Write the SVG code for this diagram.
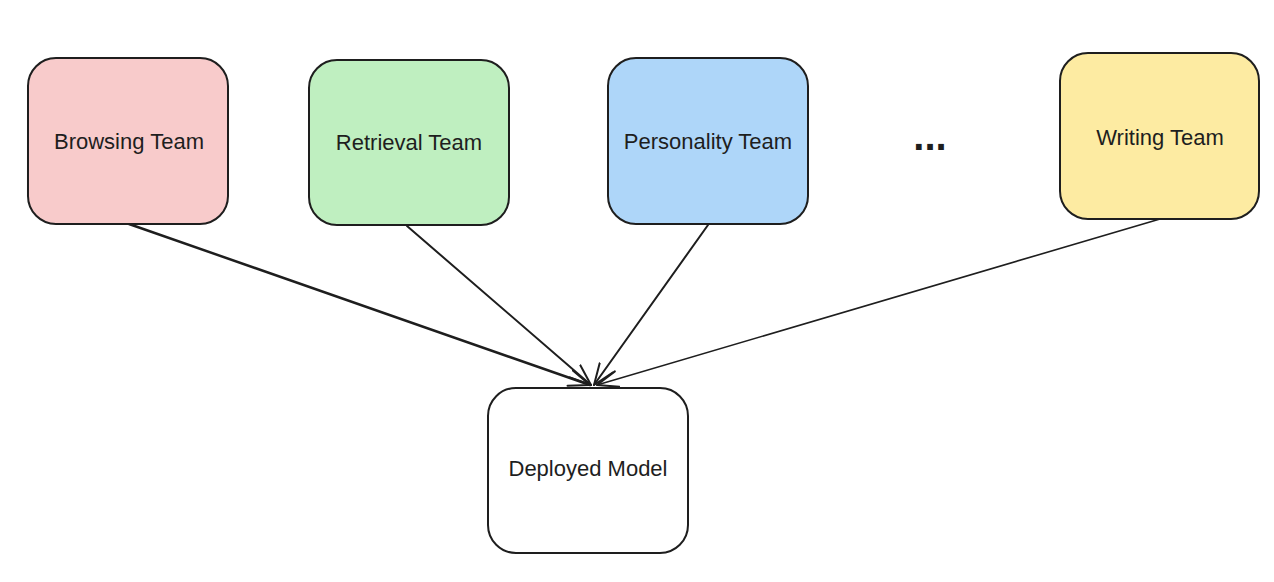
<svg xmlns="http://www.w3.org/2000/svg" width="1274" height="582" viewBox="0 0 1274 582">
<defs>
<style>
.box{stroke:#1e1e1e;stroke-width:2;}
.lbl{font-family:"Liberation Sans",Arial,sans-serif;font-size:22px;fill:#1e1e1e;text-anchor:middle;dominant-baseline:central;}
.dots{font-family:"Liberation Sans",Arial,sans-serif;font-size:40px;font-weight:bold;fill:#1e1e1e;text-anchor:middle;}
.conn{stroke:#1e1e1e;fill:none;stroke-linecap:round;}
</style>
<marker id="arr" viewBox="0 0 24 24" refX="22" refY="12" markerWidth="24" markerHeight="24" markerUnits="userSpaceOnUse" orient="auto">
<path d="M1,4 L22,12 L1,20" fill="none" stroke="#1e1e1e" stroke-width="2" stroke-linecap="round" stroke-linejoin="round"/>
</marker>
</defs>
<rect width="1274" height="582" fill="#ffffff"/>
<g id="connectors">
<line class="conn" x1="129" y1="224" x2="590" y2="385" stroke-width="2.5" marker-end="url(#arr)"/>
<line class="conn" x1="407" y1="226" x2="591" y2="385" stroke-width="2" marker-end="url(#arr)"/>
<line class="conn" x1="708" y1="225" x2="594" y2="385" stroke-width="2" marker-end="url(#arr)"/>
<line class="conn" x1="1160" y1="219" x2="597" y2="385" stroke-width="1.6" marker-end="url(#arr)"/>
</g>
<g id="browsing">
<rect class="box" x="28" y="58" width="200" height="166" rx="28" fill="#f8cbcb"/>
<text class="lbl" x="129" y="141">Browsing Team</text>
</g>
<g id="retrieval">
<rect class="box" x="309" y="60" width="200" height="165" rx="28" fill="#bfefc0"/>
<text class="lbl" x="409" y="142">Retrieval Team</text>
</g>
<g id="personality">
<rect class="box" x="608" y="58" width="200" height="166" rx="28" fill="#aed6f9"/>
<text class="lbl" x="708" y="141">Personality Team</text>
</g>
<g id="ellipsis">
<text class="dots" x="930" y="150">...</text>
</g>
<g id="writing">
<rect class="box" x="1060" y="53" width="199" height="166" rx="28" fill="#fdeba2"/>
<text class="lbl" x="1160" y="137">Writing Team</text>
</g>
<g id="deployed">
<rect class="box" x="488" y="388" width="200" height="165" rx="28" fill="#ffffff"/>
<text class="lbl" x="588" y="468">Deployed Model</text>
</g>
</svg>
